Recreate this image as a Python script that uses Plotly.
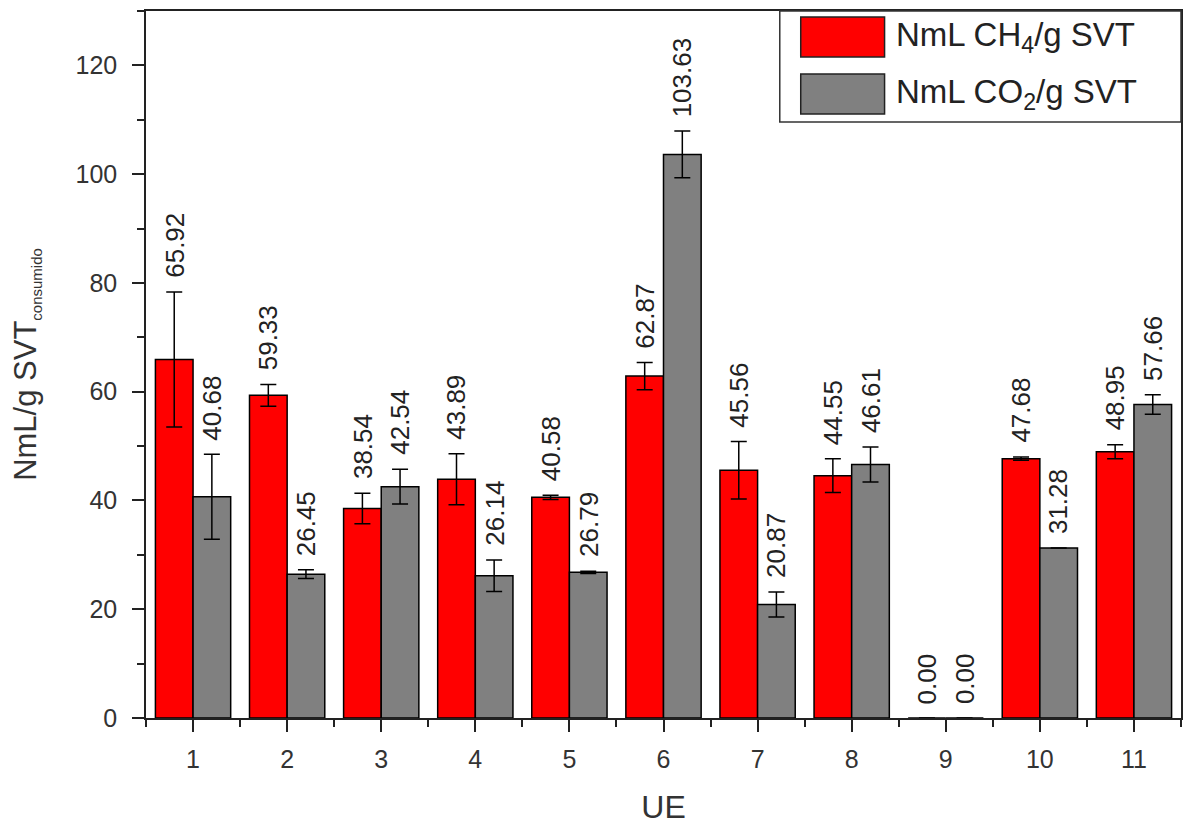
import plotly.graph_objects as go

# Experimental units and specific gas yields (mean ± SD)
units = [1, 2, 3, 4, 5, 6, 7, 8, 9, 10, 11]
ch4 = [65.92, 59.33, 38.54, 43.89, 40.58, 62.87, 45.56, 44.55, 0.00, 47.68, 48.95]
ch4_err = [12.4, 2.0, 2.8, 4.7, 0.4, 2.5, 5.3, 3.1, None, 0.3, 1.3]
co2 = [40.68, 26.45, 42.54, 26.14, 26.79, 103.63, 20.87, 46.61, 0.00, 31.28, 57.66]
co2_err = [7.8, 0.8, 3.2, 2.9, 0.2, 4.3, 2.3, 3.2, None, None, 1.8]

series_names = ["NmL CH<sub>4</sub>/g SVT", "NmL CO<sub>2</sub>/g SVT"]
series_colors = ["#FF0000", "#808080"]

FONT = "Liberation Sans, Arial, sans-serif"
W, H = 1190, 827
L, R, T, B = 146, 7, 11, 109

fig = go.Figure()
for vals, errs, name, color in [(ch4, ch4_err, series_names[0], series_colors[0]),
                                (co2, co2_err, series_names[1], series_colors[1])]:
    fig.add_trace(go.Bar(
        x=units, y=vals, name=name,
        marker=dict(color=color, line=dict(color="black", width=1.5)),
        error_y=dict(type="data", array=[e if e is not None else float("nan") for e in errs],
                     visible=True, color="black", thickness=1.5, width=8),
        showlegend=False,
    ))

# Rotated value labels just above each error bar
offsets = [-0.2, 0.2]
for k, (vals, errs) in enumerate([(ch4, ch4_err), (co2, co2_err)]):
    for u, v, e in zip(units, vals, errs):
        top = v + (e or 0)
        fig.add_annotation(x=u + offsets[k], y=top, text=f"{v:.2f}", textangle=-90,
                           showarrow=False, xanchor="center", yanchor="bottom", yshift=12,
                           font=dict(family=FONT, size=26, color="#222"))

# Legend drawn as a boxed key in the upper-right corner
pw, ph = W - L - R, H - T - B
def px(x):
    return (x - L) / pw
def py(y):
    return 1 - (y - T) / ph

fig.add_shape(type="rect", xref="paper", yref="paper",
              x0=px(781), x1=px(1183), y0=py(122), y1=py(11),
              line=dict(color="#333", width=1.5), fillcolor="white", layer="above")
for i, (name, color) in enumerate(zip(series_names, series_colors)):
    y0, y1 = 17 + i * 57, 57 + i * 57
    fig.add_shape(type="rect", xref="paper", yref="paper",
                  x0=px(802), x1=px(886), y0=py(y1), y1=py(y0),
                  line=dict(color="#222", width=1.5), fillcolor=color, layer="above")
    fig.add_annotation(xref="paper", yref="paper", x=px(895), y=py((y0 + y1) / 2),
                       text=name, showarrow=False, xanchor="left", yanchor="middle",
                       font=dict(family=FONT, size=33, color="#222"))

axis_common = dict(showline=True, linecolor="#222", linewidth=1.5, mirror=True,
                   ticks="outside", ticklen=12, tickwidth=1.5, tickcolor="#222",
                   showgrid=False, zeroline=False,
                   tickfont=dict(family=FONT, size=25, color="#333"))

fig.update_layout(
    width=W, height=H,
    margin=dict(l=L, r=R, t=T, b=B),
    paper_bgcolor="white", plot_bgcolor="white",
    barmode="group", bargap=0.2, bargroupgap=0,
    xaxis=dict(range=[0.5, 11.5], tickmode="array", tickvals=units,
               minor=dict(tickmode="array", tickvals=[u + 0.5 for u in [0] + units],
                          ticks="outside", ticklen=7, tickwidth=1.5, tickcolor="#222"),
               ticklabelstandoff=6,
               title=dict(text="UE", font=dict(family=FONT, size=32, color="#333"), standoff=24),
               **axis_common),
    yaxis=dict(range=[0, 130], tickmode="linear", tick0=0, dtick=20,
               minor=dict(dtick=10, ticks="outside", ticklen=7, tickwidth=1.5, tickcolor="#222"),
               ticklabelstandoff=10,
               title=dict(text='NmL/g SVT<sub><span style="font-size:15px">consumido</span></sub>',
                          font=dict(family=FONT, size=31, color="#333"), standoff=30),
               **axis_common),
    font=dict(family=FONT),
)

fig.write_html("out.html")
